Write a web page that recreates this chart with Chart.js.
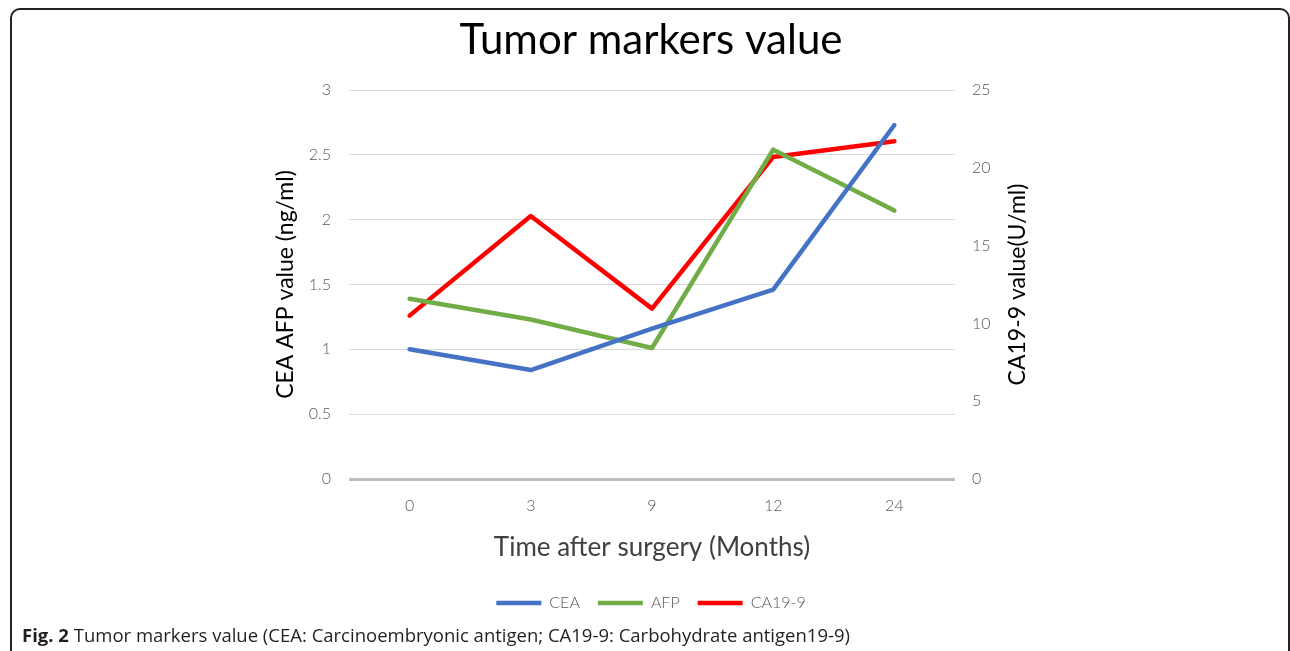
<!DOCTYPE html>
<html>
<head>
<meta charset="utf-8">
<script src="https://cdn.jsdelivr.net/npm/chart.js@4"></script>
<style>
  html, body { margin: 0; padding: 0; background: #fff; overflow: hidden; }
  #wrap { position: relative; width: 1290px; height: 651px; }
  #frame {
    position: absolute; left: 10px; top: 8px; width: 1280px; height: 720px;
    box-sizing: border-box; border: 2px solid #222; border-radius: 10px;
  }
  #chart { position: absolute; left: 0; top: 0; }
  #caption {
    position: absolute; left: 22px; top: 622px;
    font-family: "Open Sans", sans-serif; font-size: 18.5px; color: #231f20;
    white-space: nowrap;
  }
</style>
</head>
<body>
<div id="wrap">
  <div id="frame"></div>
  <canvas id="chart" width="1290" height="651"></canvas>
  <div id="caption"><b>Fig. 2</b> Tumor markers value (CEA: Carcinoembryonic antigen; CA19-9: Carbohydrate antigen19-9)</div>
</div>
<script>
// meses despues de la cirugia
const months = ['0', '3', '9', '12', '24'];
// valores
const cea = [1.0, 0.84, 1.16, 1.46, 2.73];
const afp = [1.39, 1.23, 1.01, 2.54, 2.07];
const ca199 = [10.5, 16.9, 10.95, 20.7, 21.7];

const tickFont = { family: 'Lato', size: 16, weight: 300 };
const tickColor = '#595959';

// titulo del eje derecho, de abajo hacia arriba como en el original
const rightTitle = {
  id: 'rightTitle',
  afterDraw(chart) {
    const s = chart.scales.y1;
    const area = chart.chartArea;
    const ctx = chart.ctx;
    ctx.save();
    ctx.translate(s.left + 63, (area.top + area.bottom) / 2);
    ctx.rotate(-Math.PI / 2);
    ctx.font = '23px Lato';
    ctx.fillStyle = '#000';
    ctx.textAlign = 'center';
    ctx.textBaseline = 'middle';
    ctx.fillText('CA19-9 value(U/ml)', 0, 0);
    ctx.restore();
  }
};

function line(label, data, color, axis) {
  return {
    label: label,
    data: data,
    borderColor: color,
    backgroundColor: color,
    borderWidth: 4.5,
    borderCapStyle: 'round',
    borderJoinStyle: 'round',
    pointRadius: 0,
    tension: 0,
    yAxisID: axis
  };
}

new Chart(document.getElementById('chart'), {
  type: 'line',
  data: {
    labels: months,
    datasets: [
      line('CEA', cea, '#4472c4', 'y'),
      line('AFP', afp, '#70ad47', 'y'),
      line('CA19-9', ca199, '#ff0000', 'y1')
    ]
  },
  plugins: [rightTitle],
  options: {
    responsive: false,
    animation: false,
    layout: { padding: { left: 266, right: 254, top: 15, bottom: 30 } },
    plugins: {
      title: {
        display: true,
        text: 'Tumor markers value',
        color: '#000',
        font: { family: 'Lato', size: 42, weight: 'normal' },
        padding: { top: 0, bottom: 24.6 }
      },
      legend: {
        position: 'bottom',
        labels: {
          usePointStyle: true,
          pointStyle: 'line',
          pointStyleWidth: 45,
          padding: 18,
          color: tickColor,
          font: tickFont
        }
      },
      tooltip: { enabled: false }
    },
    scales: {
      x: {
        offset: true,
        grid: { display: false, drawTicks: false },
        border: { display: false },
        ticks: { color: tickColor, font: tickFont, padding: 17 },
        title: {
          display: true,
          text: 'Time after surgery (Months)',
          color: '#404040',
          font: { family: 'Lato', size: 26 },
          padding: { top: 0, bottom: 13.7 }
        },
        afterFit(s) { s.height = 98; }
      },
      y: {
        position: 'left',
        min: 0, max: 3,
        ticks: {
          stepSize: 0.5, color: tickColor, font: tickFont, padding: 18,
          callback: (v) => String(v)
        },
        grid: {
          drawTicks: false,
          color: (c) => c.tick && c.tick.value === 0 ? '#bfbfbf' : '#d9d9d9',
          lineWidth: (c) => c.tick && c.tick.value === 0 ? 3 : 1
        },
        border: { display: false },
        title: {
          display: true,
          text: 'CEA AFP value (ng/ml)',
          color: '#000',
          font: { family: 'Lato', size: 23 },
          padding: { top: 6, bottom: 0 }
        },
        afterFit(s) { s.width = 83; }
      },
      y1: {
        position: 'right',
        min: 0, max: 25,
        ticks: {
          stepSize: 5, color: tickColor, font: tickFont, padding: 17,
          callback: (v) => String(v)
        },
        grid: { display: false, drawTicks: false },
        border: { display: false },
        afterFit(s) { s.width = 81; }
      }
    }
  }
});
</script>
</body>
</html>
